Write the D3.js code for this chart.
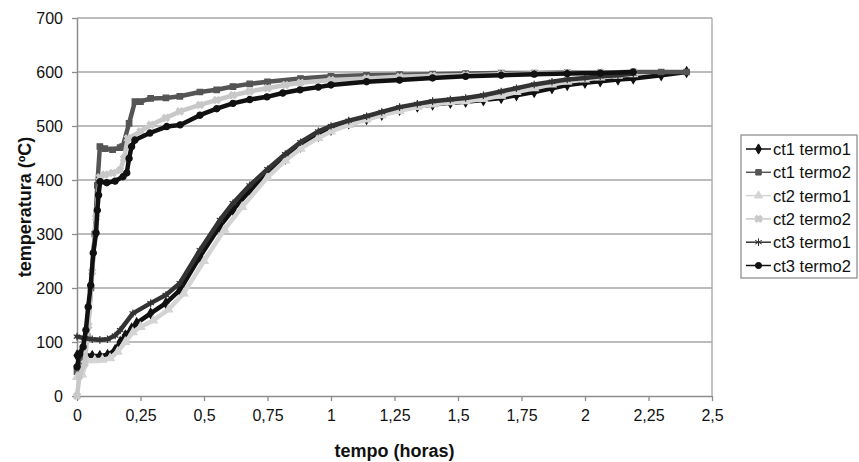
<!DOCTYPE html>
<html>
<head>
<meta charset="utf-8">
<script src="https://cdn.jsdelivr.net/npm/d3@7"></script>
<style>
  body { margin: 0; background: #fff; }
  svg { font-family: "Liberation Sans", Arial, sans-serif; }
</style>
</head>
<body>
<svg></svg>
<script>
const width = 859;
const height = 462;

// tempo (horas), temperatura (ºC)
const ct1Termo1 = [[0,75],[0.03,76],[0.06,74],[0.09,74],[0.12,76],[0.15,85],[0.17,100],[0.19,112],[0.215,125],[0.235,135],[0.29,153],[0.35,172],[0.405,196],[0.484,258],[0.56,313],[0.614,345],[0.68,380],[0.75,412],[0.82,440],[0.88,462],[0.95,482],[1.0,493],[1.07,505],[1.14,513],[1.2,521],[1.27,530],[1.34,536],[1.4,540],[1.47,543],[1.53,545],[1.6,548],[1.67,552],[1.73,557],[1.8,563],[1.87,570],[1.93,576],[2.0,580],[2.06,583],[2.13,586],[2.19,588],[2.3,594],[2.4,600]];
const ct1Termo2 = [[0,45],[0.02,60],[0.04,110],[0.055,200],[0.07,300],[0.08,390],[0.09,462],[0.11,458],[0.14,456],[0.17,460],[0.18,462],[0.205,505],[0.228,545],[0.25,545],[0.29,551],[0.35,552],[0.405,555],[0.484,563],[0.55,567],[0.614,573],[0.68,578],[0.75,582],[0.88,588],[1.0,592],[1.14,594],[1.27,595],[1.4,596],[1.53,597],[1.67,598],[1.8,598],[1.93,599],[2.06,599],[2.19,600],[2.3,600],[2.4,600]];
const ct2Termo1 = [[0,35],[0.02,40],[0.04,66],[0.07,66],[0.1,67],[0.13,70],[0.16,82],[0.19,100],[0.22,118],[0.25,128],[0.3,140],[0.36,160],[0.42,190],[0.5,250],[0.58,308],[0.65,350],[0.75,405],[0.82,436],[0.88,458],[0.95,478],[1.0,490],[1.07,502],[1.14,512],[1.2,520],[1.27,528],[1.34,535],[1.4,540],[1.47,544],[1.53,546],[1.6,550],[1.67,556],[1.73,563],[1.8,570],[1.87,577],[1.93,582],[2.0,586],[2.06,590],[2.13,593],[2.19,596]];
const ct2Termo2 = [[0,0],[0.01,38],[0.03,60],[0.045,130],[0.06,230],[0.075,330],[0.09,405],[0.11,410],[0.14,413],[0.17,418],[0.185,440],[0.2,477],[0.25,490],[0.29,502],[0.35,515],[0.405,527],[0.484,539],[0.55,548],[0.614,557],[0.68,564],[0.75,570],[0.82,576],[0.88,580],[1.0,585],[1.14,588],[1.27,591],[1.4,593],[1.53,594],[1.67,596],[1.8,597],[1.93,598],[2.06,599],[2.19,600]];
const ct3Termo1 = [[0,110],[0.03,107],[0.06,105],[0.09,104],[0.12,105],[0.15,112],[0.17,122],[0.22,153],[0.29,172],[0.35,187],[0.405,209],[0.484,270],[0.563,326],[0.614,357],[0.68,390],[0.75,420],[0.82,448],[0.88,470],[0.95,490],[1.0,500],[1.07,510],[1.14,518],[1.2,526],[1.27,535],[1.34,541],[1.4,546],[1.47,549],[1.53,552],[1.6,557],[1.67,564],[1.73,570],[1.8,577],[1.87,582],[1.93,586],[2.0,589],[2.06,592],[2.13,594],[2.19,597]];
const ct3Termo2 = [[0,54],[0.01,78],[0.024,91],[0.035,122],[0.044,165],[0.054,205],[0.064,265],[0.075,302],[0.08,344],[0.085,372],[0.091,397],[0.117,395],[0.15,398],[0.181,406],[0.196,413],[0.205,440],[0.215,462],[0.228,474],[0.287,487],[0.353,499],[0.406,502],[0.484,520],[0.55,532],[0.614,542],[0.68,549],[0.748,554],[0.81,561],[0.878,567],[0.95,572],[1.0,576],[1.14,582],[1.27,585],[1.4,589],[1.53,592],[1.67,594],[1.8,596],[1.93,597],[2.06,598],[2.19,600]];

const seriesNames = ["ct1 termo1", "ct1 termo2", "ct2 termo1", "ct2 termo2", "ct3 termo1", "ct3 termo2"];
const xTicks = [0, 0.25, 0.5, 0.75, 1, 1.25, 1.5, 1.75, 2, 2.25, 2.5];
const yTicks = [0, 100, 200, 300, 400, 500, 600, 700];

const series = [
  {name: seriesNames[0], values: ct1Termo1, color: "#111", symbol: d3.symbolDiamond, size: 30},
  {name: seriesNames[1], values: ct1Termo2, color: "#555", symbol: d3.symbolSquare, size: 30},
  {name: seriesNames[2], values: ct2Termo1, color: "#d4d4d4", symbol: d3.symbolTriangle, size: 30},
  {name: seriesNames[3], values: ct2Termo2, color: "#c8c8c8", symbol: d3.symbolCross, size: 30, rot: 45},
  {name: seriesNames[4], values: ct3Termo1, color: "#333", symbol: d3.symbolAsterisk, size: 40},
  {name: seriesNames[5], values: ct3Termo2, color: "#111", symbol: d3.symbolCircle, size: 30}
];

const margin = {left: 77, right: 147, top: 18, bottom: 66};

const svg = d3.select("svg").attr("width", width).attr("height", height);

const xScale = d3.scaleLinear().domain([0, 2.5]).range([margin.left, width - margin.right]);
const yScale = d3.scaleLinear().domain([0, 700]).range([height - margin.bottom, margin.top]);

// gridlines
svg.append("g")
  .selectAll("line")
  .data(yTicks.slice(1))
  .enter()
  .append("line")
  .attr("x1", xScale(0)).attr("x2", xScale(2.5))
  .attr("y1", d => yScale(d)).attr("y2", d => yScale(d))
  .attr("stroke", "#a6a6a6").attr("stroke-width", 1.3);

// right border of plot area
svg.append("line")
  .attr("x1", xScale(2.5)).attr("x2", xScale(2.5))
  .attr("y1", yScale(700)).attr("y2", yScale(0))
  .attr("stroke", "#a6a6a6").attr("stroke-width", 1.3);

const fmt = d => String(d).replace(".", ",");

const xAxis = d3.axisBottom(xScale).tickValues(xTicks).tickFormat(fmt).tickSizeInner(5).tickSizeOuter(0).tickPadding(9);
const yAxis = d3.axisLeft(yScale).tickValues(yTicks).tickFormat(fmt).tickSizeInner(5).tickSizeOuter(0).tickPadding(9);

const gx = svg.append("g").attr("transform", "translate(0," + yScale(0) + ")").call(xAxis);
const gy = svg.append("g").attr("transform", "translate(" + xScale(0) + ",0)").call(yAxis);

[gx, gy].forEach(g => {
  g.selectAll(".domain").attr("stroke", "#8c8c8c").attr("stroke-width", 1.5);
  g.selectAll(".tick line").attr("stroke", "#8c8c8c").attr("stroke-width", 1.3);
  g.selectAll(".tick text").attr("font-size", 16).attr("fill", "#111").attr("font-family", "Liberation Sans, Arial, sans-serif");
});

// series
const line = d3.line().x(d => xScale(d[0])).y(d => yScale(d[1]));

series.forEach(s => {
  const g = svg.append("g");
  g.append("path")
    .datum(s.values)
    .attr("d", line)
    .attr("fill", "none")
    .attr("stroke", s.color)
    .attr("stroke-width", 4.5)
    .attr("stroke-linejoin", "round")
    .attr("stroke-linecap", "round");
  g.selectAll("path.m")
    .data(s.values)
    .enter()
    .append("path")
    .attr("class", "m")
    .attr("d", d3.symbol().type(s.symbol).size(s.size))
    .attr("transform", d => "translate(" + xScale(d[0]) + "," + yScale(d[1]) + ")" + (s.rot ? " rotate(" + s.rot + ")" : ""))
    .attr("fill", s.color)
    .attr("stroke", s.color)
    .attr("stroke-width", 1.2);
});

// axis titles
svg.append("text")
  .attr("x", (xScale(0) + xScale(2.5)) / 2)
  .attr("y", 457)
  .attr("text-anchor", "middle")
  .attr("font-size", 18).attr("font-weight", "bold").attr("fill", "#111")
  .text("tempo (horas)");

svg.append("text")
  .attr("transform", "translate(31," + (yScale(0) + yScale(700)) / 2 + ") rotate(-90)")
  .attr("text-anchor", "middle")
  .attr("font-size", 18).attr("font-weight", "bold").attr("fill", "#111")
  .text("temperatura (ºC)");

// legend
const legend = svg.append("g").attr("transform", "translate(741,135)");
legend.append("rect")
  .attr("width", 116).attr("height", 143)
  .attr("fill", "#fff").attr("stroke", "#888").attr("stroke-width", 1.2);

const items = legend.selectAll("g.item")
  .data(series)
  .enter()
  .append("g")
  .attr("class", "item")
  .attr("transform", (d, i) => "translate(0," + (14 + i * 23.3) + ")");

items.append("line")
  .attr("x1", 5).attr("x2", 30)
  .attr("stroke", d => d.color).attr("stroke-width", 1.5);
items.append("path")
  .attr("d", d => d3.symbol().type(d.symbol).size(d.size)())
  .attr("transform", d => "translate(17.5,0)" + (d.rot ? " rotate(" + d.rot + ")" : ""))
  .attr("fill", d => d.color).attr("stroke", d => d.color);
items.append("text")
  .attr("x", 32).attr("y", 6)
  .attr("font-size", 16.5).attr("fill", "#111")
  .text(d => d.name);
</script>
</body>
</html>
